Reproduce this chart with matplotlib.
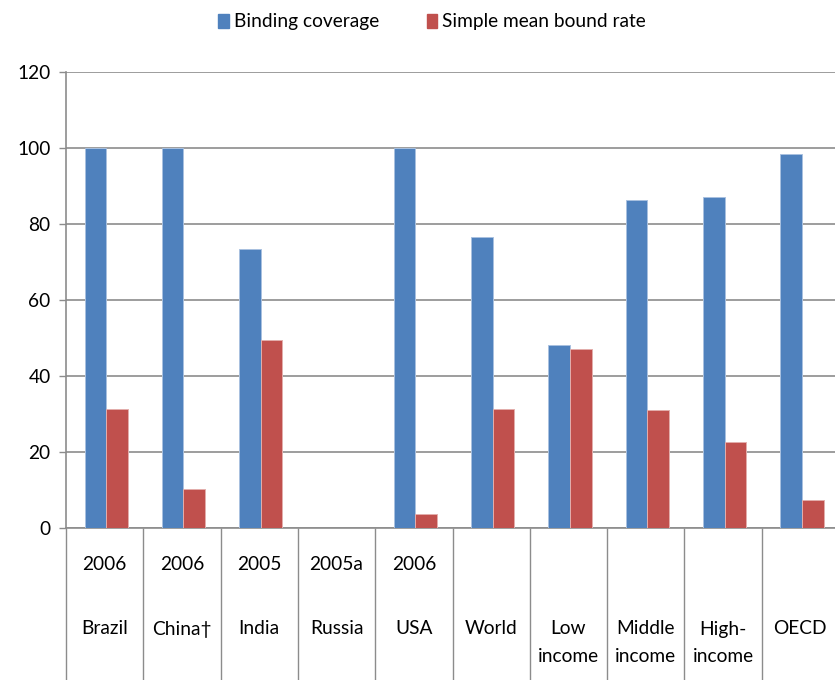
import matplotlib
matplotlib.use("Agg")
import matplotlib.pyplot as plt
from matplotlib.patches import Patch
import numpy as np

plt.rcParams['font.family'] = ['Lato', 'DejaVu Sans']

# tariff binding data by economy / income group
years = ["2006", "2006", "2005", "2005a", "2006", "", "", "", "", ""]
names = ["Brazil", "China\u2020", "India", "Russia", "USA", "World",
         "Low\nincome", "Middle\nincome", "High-\nincome", "OECD"]
binding_coverage = [100, 100, 73.4, 0, 100, 76.7, 48.2, 86.2, 87.2, 98.4]
mean_bound_rate = [31.4, 10.2, 49.5, 0, 3.7, 31.4, 47.1, 31.0, 22.6, 7.5]

blue = "#4F81BD"
red = "#C0504D"
grid_col = "#8c8c8c"
fs = 13.8

fig = plt.figure(figsize=(8.35, 6.8), dpi=100)
# axes run slightly past the right edge of the figure
ax = fig.add_axes([66 / 835, 152 / 680, 773 / 835, 456 / 680])

x = np.arange(len(names)) + 0.5
w = 0.28
ax.bar(x - w / 2 + 0.02, binding_coverage, w, color=blue, edgecolor="#a9c1e0", linewidth=0.7, zorder=3)
ax.bar(x + w / 2 + 0.02, mean_bound_rate, w, color=red, edgecolor="#e3aeac", linewidth=0.7, zorder=3)

ax.set_xlim(0, len(names))
ax.set_ylim(0, 120)
ax.set_yticks(range(0, 121, 20))
ax.yaxis.grid(True, color=grid_col, linewidth=1.2, zorder=1)
ax.tick_params(axis="y", length=5, color=grid_col, width=1, labelsize=fs, pad=6)

# category dividers hang below the axis like a table
ax.set_xticks(np.arange(len(names) + 1))
ax.set_xticklabels([])
ax.tick_params(axis="x", length=152 * 0.72, color=grid_col, width=1, direction="out")

for s in ["top", "right"]:
    ax.spines[s].set_visible(False)
ax.spines["left"].set_color(grid_col)
ax.spines["bottom"].set_color(grid_col)
ax.spines["left"].set_linewidth(1.2)
ax.spines["bottom"].set_linewidth(1.2)

tr = ax.get_xaxis_transform()
for xi, yr, nm in zip(x, years, names):
    if yr:
        ax.text(xi, -37 / 456, yr, transform=tr, ha="center", va="center", fontsize=fs)
    for k, line in enumerate(nm.split("\n")):
        ax.text(xi, -(101 + 27 * k) / 456, line, transform=tr, ha="center",
                va="center", fontsize=fs)

handles = [Patch(color=blue, label="Binding coverage"),
           Patch(color=red, label="Simple mean bound rate")]
fig.legend(handles=handles, loc="center", bbox_to_anchor=(432 / 835, 1 - 22 / 680),
           ncol=2, frameon=False, fontsize=fs, handlelength=0.55, handleheight=0.75,
           handletextpad=0.25, columnspacing=2.5)

fig.savefig("out.png", dpi=100)
